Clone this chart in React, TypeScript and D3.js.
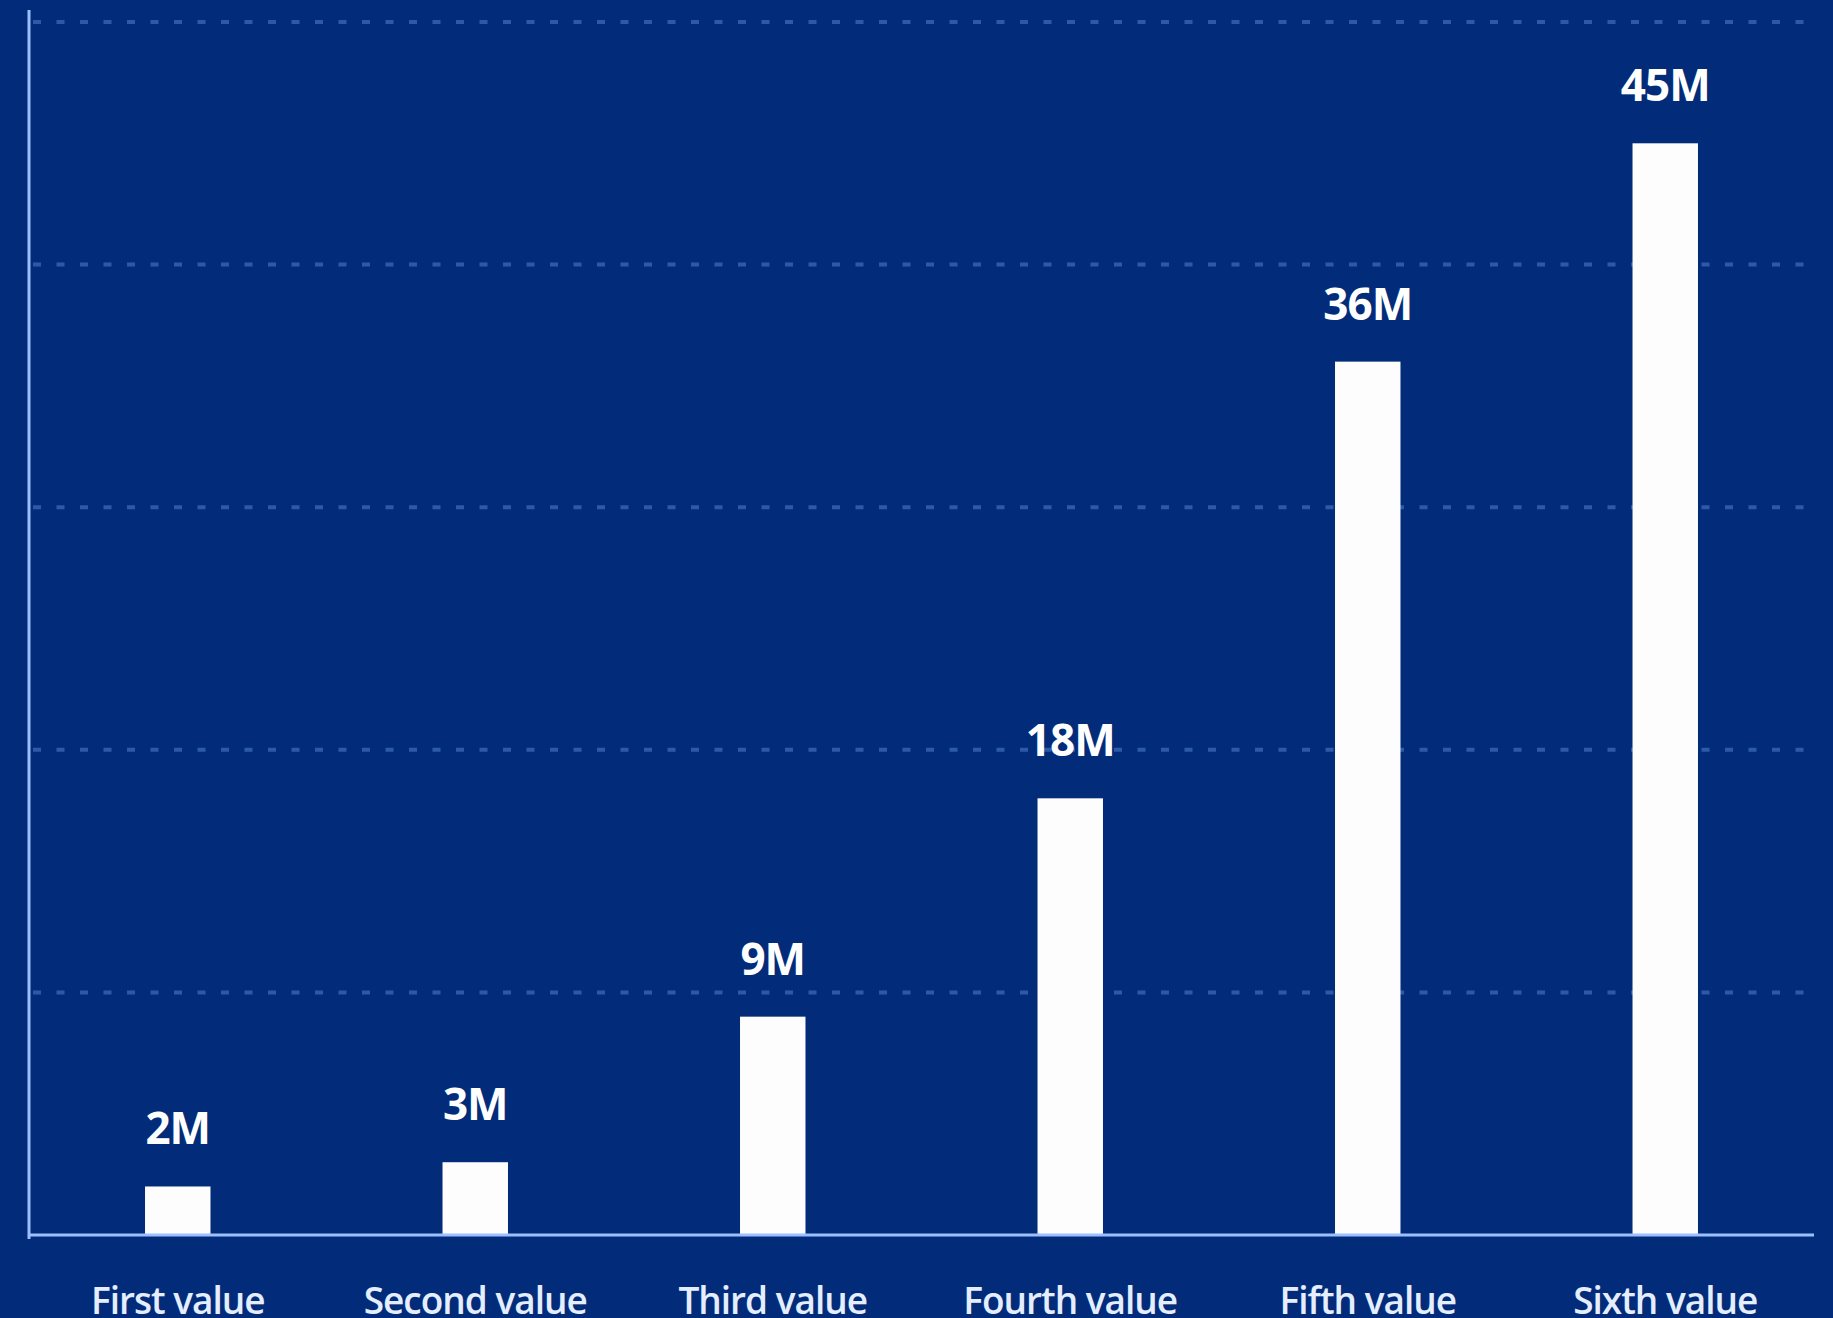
import React from "react";
import * as d3 from "d3";

const categories: string[] = ["First value", "Second value", "Third value", "Fourth value", "Fifth value", "Sixth value"];
const values: number[] = [2, 3, 9, 18, 36, 45];
const valueLabels: string[] = ["2M", "3M", "9M", "18M", "36M", "45M"];
const gridTicks: number[] = [10, 20, 30, 40, 50];

const W = 1833;
const H = 1318;
const BG = "#022c79";

export default function App() {
  const left = 29;
  const right = 1814;
  const top = 22;
  const bottom = 1235;

  const x = d3.scaleBand<string>().domain(categories).range([left, right]).paddingInner(0.78).paddingOuter(0.39);
  const y = d3.scaleLinear().domain([0, 50]).range([bottom, top]);

  return (
    <div style={{ position: "fixed", left: 0, top: 0, width: W, height: H, background: BG, overflow: "hidden" }}>
      <svg width={W} height={H} style={{ display: "block" }}>
        <rect x={0} y={0} width={W} height={H} fill={BG} />
        {gridTicks.map((t) => (
          <line
            key={t}
            x1={left + 4}
            x2={right}
            y1={y(t)}
            y2={y(t)}
            stroke="#2d5aa8"
            strokeWidth={4}
            strokeDasharray="8 15.5"
          />
        ))}
        {categories.map((c, i) => {
          const bx = x(c)!;
          const bw = x.bandwidth();
          const yt = y(values[i]);
          return (
            <g key={c}>
              <rect x={bx} y={yt} width={bw} height={bottom - yt} fill="#fdfdfd" />
              <text
                x={bx + bw / 2}
                y={yt - 42}
                textAnchor="middle"
                fill="#ffffff"
                fontFamily="'Open Sans', sans-serif"
                fontWeight={700}
                fontSize={44}
                letterSpacing={-1}
              >
                {valueLabels[i]}
              </text>
              <text
                x={bx + bw / 2}
                y={1314}
                textAnchor="middle"
                fill="#e4eeff"
                fontFamily="'Open Sans', sans-serif"
                fontWeight={600}
                fontSize={37}
                letterSpacing={-1}
              >
                {c}
              </text>
            </g>
          );
        })}
        <line x1={left} x2={left} y1={10} y2={bottom + 4} stroke="#9cc0ff" strokeWidth={3} />
        <line x1={left} x2={right} y1={bottom} y2={bottom} stroke="#9cc0ff" strokeWidth={3} />
      </svg>
    </div>
  );
}
